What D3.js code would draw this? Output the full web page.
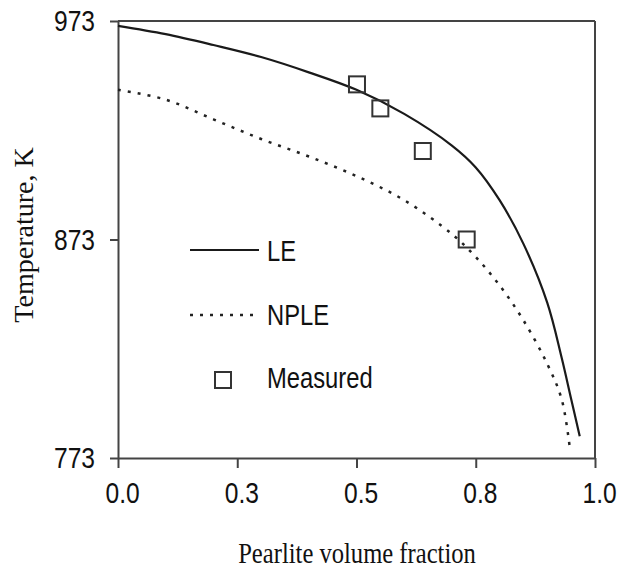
<!DOCTYPE html>
<html>
<head>
<meta charset="utf-8">
<script src="https://cdn.jsdelivr.net/npm/d3@7"></script>
<style>
  body { margin: 0; background: #fff; }
</style>
</head>
<body>
<script>
// curve data
var leFraction = [0, 0.1, 0.2, 0.3, 0.4, 0.5, 0.6, 0.7, 0.75, 0.8, 0.85, 0.9, 0.93, 0.95, 0.968];
var leTemp     = [970.8, 967, 962, 956.5, 949.5, 941.5, 930.5, 916, 906, 891, 871, 844, 819, 800, 783];

var npleFraction = [0, 0.1, 0.2, 0.3, 0.4, 0.5, 0.6, 0.7, 0.75, 0.8, 0.85, 0.9, 0.93, 0.947];
var npleTemp     = [941.5, 937, 928, 919, 911, 902, 891, 875.5, 865, 852, 836, 816, 800, 778];

var measFraction = [0.501, 0.550, 0.639, 0.731];
var measTemp     = [944, 933, 913.5, 873];

var xTicks = [0, 0.25, 0.5, 0.75, 1];
var xTickLabels = ["0.0", "0.3", "0.5", "0.8", "1.0"];
var yTicks = [773, 873, 973];

var W = 619, H = 574;
var margin = {top: 21, left: 118, right: 24, bottom: 116};
var squeeze = 0.82; // the figure's text is horizontally condensed

var svg = d3.select("body").append("svg")
  .attr("width", W)
  .attr("height", H);

var x = d3.scaleLinear().domain([0, 1]).range([margin.left, W - margin.right]);
var y = d3.scaleLinear().domain([773, 973]).range([H - margin.bottom, margin.top]);

var axisColor = "#444";
var sans = "'Liberation Sans', Arial, sans-serif";
var serif = "'Liberation Serif', 'Times New Roman', serif";

// box top + right
svg.append("line")
  .attr("x1", x(0)).attr("x2", x(1))
  .attr("y1", y(973)).attr("y2", y(973))
  .attr("stroke", axisColor).attr("stroke-width", 2);
svg.append("line")
  .attr("x1", x(1)).attr("x2", x(1))
  .attr("y1", y(973)).attr("y2", y(773))
  .attr("stroke", axisColor).attr("stroke-width", 2);

var xAx = d3.axisBottom(x)
  .tickValues(xTicks)
  .tickFormat(function(d, i) { return xTickLabels[i]; })
  .tickSizeInner(10).tickSizeOuter(0).tickPadding(14);
var gx = svg.append("g")
  .attr("transform", "translate(0," + y(773) + ")")
  .call(xAx);

var yAx = d3.axisLeft(y)
  .tickValues(yTicks)
  .tickSizeInner(8).tickSizeOuter(0).tickPadding(15);
var gy = svg.append("g")
  .attr("transform", "translate(" + x(0) + ",0)")
  .call(yAx);

[gx, gy].forEach(function(g) {
  g.selectAll("path, line").attr("stroke", axisColor).attr("stroke-width", 2);
  g.selectAll("text")
    .attr("font-family", sans)
    .attr("font-size", 30)
    .attr("fill", "#111")
    .attr("transform", "scale(" + squeeze + ",1)");
});
gx.selectAll("text").attr("dx", 5);
gy.selectAll("text").attr("x", -23 / squeeze);

// curves
var line = d3.line()
  .x(function(d) { return x(d[0]); })
  .y(function(d) { return y(d[1]); })
  .curve(d3.curveCatmullRom.alpha(0.5));

svg.append("path")
  .datum(leFraction.map(function(f, i) { return [f, leTemp[i]]; }))
  .attr("d", line)
  .attr("fill", "none")
  .attr("stroke", "#1a1a1a")
  .attr("stroke-width", 2.2);

svg.append("path")
  .datum(npleFraction.map(function(f, i) { return [f, npleTemp[i]]; }))
  .attr("d", line)
  .attr("fill", "none")
  .attr("stroke", "#222")
  .attr("stroke-width", 2.5)
  .attr("stroke-dasharray", "3,7");

// measured squares
var sq = 16;
svg.selectAll("rect.meas")
  .data(measFraction)
  .enter().append("rect")
  .attr("class", "meas")
  .attr("x", function(d) { return x(d) - sq / 2; })
  .attr("y", function(d, i) { return y(measTemp[i]) - sq / 2; })
  .attr("width", sq).attr("height", sq)
  .attr("fill", "none")
  .attr("stroke", "#333")
  .attr("stroke-width", 2);

// legend
var leg = svg.append("g");
leg.append("line")
  .attr("x1", 190).attr("x2", 259).attr("y1", 250).attr("y2", 250)
  .attr("stroke", "#1a1a1a").attr("stroke-width", 2.2);
leg.append("line")
  .attr("x1", 190).attr("x2", 256).attr("y1", 315).attr("y2", 315)
  .attr("stroke", "#222").attr("stroke-width", 2.5).attr("stroke-dasharray", "3,7");
leg.append("rect")
  .attr("x", 215).attr("y", 372).attr("width", 16).attr("height", 16)
  .attr("fill", "none").attr("stroke", "#333").attr("stroke-width", 2);
var legText = [["LE", 261], ["NPLE", 325], ["Measured", 388]];
legText.forEach(function(t) {
  leg.append("text")
    .attr("transform", "translate(267," + t[1] + ") scale(" + squeeze + ",1)")
    .attr("font-family", sans)
    .attr("font-size", 29)
    .attr("fill", "#111")
    .text(t[0]);
});

// axis titles
svg.append("text")
  .attr("transform", "translate(357,563) scale(" + squeeze + ",1)")
  .attr("text-anchor", "middle")
  .attr("font-family", serif)
  .attr("font-size", 30)
  .attr("fill", "#111")
  .text("Pearlite volume fraction");

svg.append("text")
  .attr("transform", "translate(33,235) rotate(-90)")
  .attr("text-anchor", "middle")
  .attr("font-family", serif)
  .attr("font-size", 28)
  .attr("fill", "#111")
  .text("Temperature, K");
</script>
</body>
</html>
